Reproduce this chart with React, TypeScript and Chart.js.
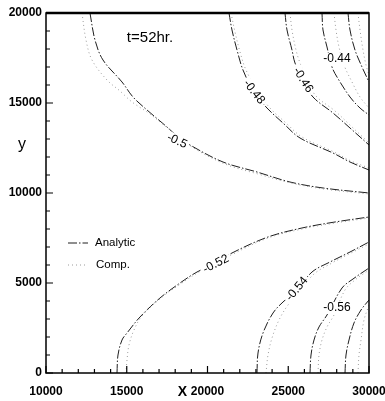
import React, { useEffect, useRef } from 'react';
import { Chart, registerables } from 'chart.js';
Chart.register(...registerables);

type P = { x: number; y: number };

// Tick labels
const xTicks = [10000, 15000, 20000, 25000, 30000];
const yTicks = [0, 5000, 10000, 15000, 20000];

// Analytic contours
const an042: P[] = [
  { x: 28700, y: 20000 }, { x: 28824, y: 19056 }, { x: 29133, y: 17944 }, { x: 29567, y: 17000 }, { x: 30000, y: 16167 },
];
const an044: P[] = [
  { x: 27090, y: 20000 }, { x: 27152, y: 19056 }, { x: 27400, y: 18111 }, { x: 27709, y: 17000 }, { x: 28019, y: 16444 },
  { x: 28824, y: 15333 }, { x: 29443, y: 14722 }, { x: 30000, y: 14333 },
];
const an046: P[] = [
  { x: 24799, y: 20000 }, { x: 24923, y: 19056 }, { x: 25232, y: 17944 }, { x: 25418, y: 17222 }, { x: 25913, y: 16278 },
  { x: 26533, y: 15333 }, { x: 27771, y: 14444 }, { x: 28824, y: 13611 }, { x: 30000, y: 12667 },
];
const an048: P[] = [
  { x: 21331, y: 20000 }, { x: 21517, y: 19056 }, { x: 21827, y: 17944 }, { x: 22198, y: 16833 }, { x: 22879, y: 15611 },
  { x: 23684, y: 14722 }, { x: 24675, y: 13889 }, { x: 25728, y: 13056 }, { x: 27771, y: 12222 }, { x: 28824, y: 11722 },
  { x: 30000, y: 11278 },
];
const an050: P[] = [
  { x: 12724, y: 20000 }, { x: 13034, y: 18500 }, { x: 13529, y: 17389 }, { x: 14706, y: 16167 }, { x: 15387, y: 15333 },
  { x: 16254, y: 14611 }, { x: 17492, y: 13667 }, { x: 18111, y: 13167 }, { x: 18916, y: 12667 }, { x: 20960, y: 11722 },
  { x: 23065, y: 11167 }, { x: 25108, y: 10611 }, { x: 27152, y: 10278 }, { x: 30000, y: 10000 },
];
const an052: P[] = [
  { x: 14396, y: 0 }, { x: 14458, y: 1000 }, { x: 14706, y: 1833 }, { x: 15016, y: 2222 }, { x: 15820, y: 3111 },
  { x: 17059, y: 4167 }, { x: 18297, y: 5000 }, { x: 19350, y: 5611 }, { x: 20526, y: 6111 }, { x: 21517, y: 6667 },
  { x: 23746, y: 7556 }, { x: 25851, y: 8056 }, { x: 27895, y: 8389 }, { x: 30000, y: 8667 },
];
const an054: P[] = [
  { x: 23065, y: 0 }, { x: 23127, y: 1111 }, { x: 23437, y: 2222 }, { x: 24056, y: 3333 }, { x: 24675, y: 3944 },
  { x: 25542, y: 4611 }, { x: 26471, y: 5611 }, { x: 27586, y: 6167 }, { x: 28824, y: 6722 }, { x: 30000, y: 7278 },
];
const an056: P[] = [
  { x: 26347, y: 0 }, { x: 26409, y: 1000 }, { x: 26595, y: 1833 }, { x: 26904, y: 2556 }, { x: 27400, y: 3222 },
  { x: 28328, y: 4722 }, { x: 29009, y: 5222 }, { x: 30000, y: 5833 },
];
const an058: P[] = [
  { x: 28514, y: 0 }, { x: 28576, y: 1000 }, { x: 28762, y: 1833 }, { x: 29071, y: 2778 }, { x: 29505, y: 3500 }, { x: 30000, y: 4056 },
];

// Computed contours
const cp042: P[] = [
  { x: 29319, y: 20000 }, { x: 29443, y: 19056 }, { x: 29629, y: 17944 }, { x: 29815, y: 17111 }, { x: 30000, y: 16556 },
];
const cp044: P[] = [
  { x: 27833, y: 20000 }, { x: 27957, y: 19056 }, { x: 28143, y: 18111 }, { x: 28452, y: 17111 }, { x: 28947, y: 16167 },
  { x: 29443, y: 15333 }, { x: 30000, y: 14722 },
];
const cp046: P[] = [
  { x: 25108, y: 20000 }, { x: 25232, y: 19056 }, { x: 25480, y: 17944 }, { x: 25728, y: 17222 }, { x: 26161, y: 16278 },
  { x: 26719, y: 15389 }, { x: 27895, y: 14556 }, { x: 28886, y: 13722 }, { x: 30000, y: 12778 },
];
const cp048: P[] = [
  { x: 21455, y: 20000 }, { x: 21703, y: 18944 }, { x: 22013, y: 17833 }, { x: 22384, y: 16833 }, { x: 23127, y: 15611 },
  { x: 23870, y: 14722 }, { x: 24861, y: 13889 }, { x: 25851, y: 13111 }, { x: 27833, y: 12278 }, { x: 28886, y: 11778 },
  { x: 30000, y: 11389 },
];
const cp050: P[] = [
  { x: 12229, y: 20000 }, { x: 12477, y: 18500 }, { x: 12848, y: 17389 }, { x: 13777, y: 16278 }, { x: 14582, y: 15667 },
  { x: 15325, y: 15056 }, { x: 16440, y: 14389 }, { x: 17678, y: 13500 }, { x: 19040, y: 12556 }, { x: 21084, y: 11611 },
  { x: 23127, y: 11056 }, { x: 25170, y: 10556 }, { x: 27214, y: 10222 }, { x: 30000, y: 9944 },
];
const cp052: P[] = [
  { x: 14954, y: 0 }, { x: 15016, y: 722 }, { x: 15139, y: 1556 }, { x: 15449, y: 2389 }, { x: 15944, y: 3167 },
  { x: 17121, y: 4167 }, { x: 18421, y: 5000 }, { x: 19474, y: 5611 }, { x: 21579, y: 6611 }, { x: 23746, y: 7500 },
  { x: 25851, y: 8000 }, { x: 27895, y: 8333 }, { x: 30000, y: 8611 },
];
const cp054: P[] = [
  { x: 23622, y: 0 }, { x: 23746, y: 1000 }, { x: 23994, y: 1944 }, { x: 24427, y: 2944 }, { x: 24985, y: 3778 },
  { x: 25728, y: 4556 }, { x: 26595, y: 5500 }, { x: 27709, y: 6111 }, { x: 28886, y: 6667 }, { x: 30000, y: 7167 },
];
const cp056: P[] = [
  { x: 26843, y: 0 }, { x: 26904, y: 1000 }, { x: 27090, y: 1833 }, { x: 27400, y: 2556 }, { x: 27833, y: 3222 },
  { x: 28514, y: 4611 }, { x: 29133, y: 5167 }, { x: 30000, y: 5722 },
];
const cp058: P[] = [
  { x: 29319, y: 0 }, { x: 29381, y: 1000 }, { x: 29505, y: 1833 }, { x: 29691, y: 2944 }, { x: 30000, y: 3778 },
];

// Contour labels: text, anchor (data), angle (deg)
const labelTexts = ['-0.44', '-0.46', '-0.48', '-0.5', '-0.52', '-0.54', '-0.56'];
const labelX = [28019, 25913, 22879, 18111, 20526, 25542, 28019];
const labelY = [17444, 16278, 15611, 12889, 6056, 4667, 3611];
const labelAngle = [0, 58, 52, 25, -27, -50, 0];

const FONT = '"Liberation Sans", Arial, Helvetica, sans-serif';
const AN_COLOR = '#1e1e1e';
const CP_COLOR = '#9a9a9a';
const AN_DASH = [9, 2, 1.5, 2];
const CP_DASH = [1, 3];

const decor = {
  id: 'decor',
  afterDatasetsDraw(chart: any) {
    const { ctx, chartArea: a, scales } = chart;
    const xs = scales.x, ys = scales.y;
    ctx.save();
    // contour labels
    ctx.font = `12px ${FONT}`;
    ctx.textAlign = 'center';
    ctx.textBaseline = 'middle';
    for (let i = 0; i < labelTexts.length; i++) {
      const px = xs.getPixelForValue(labelX[i]);
      const py = ys.getPixelForValue(labelY[i]);
      ctx.save();
      ctx.translate(px, py);
      ctx.rotate((labelAngle[i] * Math.PI) / 180);
      const w = ctx.measureText(labelTexts[i]).width;
      ctx.fillStyle = '#fff';
      ctx.fillRect(-w / 2 - 2, -6, w + 4, 12);
      ctx.fillStyle = '#000';
      ctx.fillText(labelTexts[i], 0, 0);
      ctx.restore();
    }
    // title
    ctx.font = `15px ${FONT}`;
    ctx.fillStyle = '#000';
    ctx.fillText('t=52hr.', xs.getPixelForValue(16440), ys.getPixelForValue(18611));

    // frame
    ctx.strokeStyle = '#000';
    ctx.lineWidth = 1.5;
    ctx.strokeRect(a.left, a.top, a.right - a.left, a.bottom - a.top);
    ctx.lineWidth = 2.5;
    ctx.beginPath();
    ctx.moveTo(a.left, a.top);
    ctx.lineTo(a.right, a.top);
    ctx.stroke();

    // inward ticks
    ctx.lineWidth = 1.2;
    ctx.beginPath();
    for (let v = xTicks[0]; v <= xTicks[xTicks.length - 1]; v += 1000) {
      const px = xs.getPixelForValue(v);
      const len = v % 5000 === 0 ? 7 : 4;
      ctx.moveTo(px, a.bottom);
      ctx.lineTo(px, a.bottom - len);
    }
    for (let v = yTicks[0]; v <= yTicks[yTicks.length - 1]; v += 1000) {
      const py = ys.getPixelForValue(v);
      const len = v % 5000 === 0 ? 7 : 4;
      ctx.moveTo(a.left, py);
      ctx.lineTo(a.left + len, py);
    }
    ctx.stroke();

    // axis titles
    ctx.fillStyle = '#000';
    ctx.font = `16px ${FONT}`;
    ctx.textAlign = 'center';
    ctx.fillText('y', a.left - 24, a.top + 132);
    ctx.font = `bold 14px ${FONT}`;
    ctx.fillText('X', xs.getPixelForValue(20000) - 25, a.bottom + 19);

    // legend
    const lx = a.left + 22;
    const ly1 = a.top + 230;
    const ly2 = a.top + 252;
    ctx.lineWidth = 1;
    ctx.strokeStyle = AN_COLOR;
    ctx.setLineDash(AN_DASH);
    ctx.beginPath();
    ctx.moveTo(lx, ly1);
    ctx.lineTo(lx + 20, ly1);
    ctx.stroke();
    ctx.strokeStyle = CP_COLOR;
    ctx.setLineDash(CP_DASH);
    ctx.beginPath();
    ctx.moveTo(lx, ly2);
    ctx.lineTo(lx + 20, ly2);
    ctx.stroke();
    ctx.setLineDash([]);
    ctx.font = `11.5px ${FONT}`;
    ctx.textAlign = 'left';
    ctx.fillText('Analytic', lx + 27, ly1);
    ctx.fillText('Comp.', lx + 28, ly2);
    ctx.restore();
  },
};

const analyticSets = [an042, an044, an046, an048, an050, an052, an054, an056, an058];
const compSets = [cp042, cp044, cp046, cp048, cp050, cp052, cp054, cp056, cp058];

export default function App() {
  const ref = useRef<HTMLCanvasElement | null>(null);
  useEffect(() => {
    document.body.style.margin = '0';
    if (!ref.current) return;
    const datasets: any[] = [];
    compSets.forEach((d, i) =>
      datasets.push({
        label: 'Comp. ' + i,
        data: d,
        showLine: true,
        pointRadius: 0,
        borderColor: CP_COLOR,
        borderWidth: 1,
        borderDash: CP_DASH,
        tension: 0.35,
      })
    );
    analyticSets.forEach((d, i) =>
      datasets.push({
        label: 'Analytic ' + i,
        data: d,
        showLine: true,
        pointRadius: 0,
        borderColor: AN_COLOR,
        borderWidth: 1,
        borderDash: AN_DASH,
        tension: 0.35,
      })
    );
    const tickFont = { family: FONT, size: 12, weight: 'bold' as const };
    const chart = new Chart(ref.current, {
      type: 'scatter',
      data: { datasets },
      options: {
        animation: false,
        responsive: true,
        maintainAspectRatio: false,
        layout: { padding: { top: 13, right: 16, left: 0, bottom: 0 } },
        plugins: { legend: { display: false }, tooltip: { enabled: false } },
        scales: {
          x: {
            type: 'linear',
            min: xTicks[0],
            max: xTicks[xTicks.length - 1],
            grid: { display: false, drawTicks: false, tickLength: 0 },
            border: { display: false },
            afterBuildTicks: (s: any) => {
              s.ticks = xTicks.map((v) => ({ value: v }));
            },
            ticks: { color: '#000', font: tickFont, padding: 11, maxRotation: 0, autoSkip: false, callback: (v: any) => String(v) },
            afterFit: (s: any) => {
              s.height = 28;
              s.paddingLeft = 0;
              s.paddingRight = 0;
            },
          },
          y: {
            type: 'linear',
            min: yTicks[0],
            max: yTicks[yTicks.length - 1],
            grid: { display: false, drawTicks: false, tickLength: 0 },
            border: { display: false },
            afterBuildTicks: (s: any) => {
              s.ticks = yTicks.map((v) => ({ value: v }));
            },
            ticks: { color: '#000', font: tickFont, padding: 4, autoSkip: false, callback: (v: any) => String(v) },
            afterFit: (s: any) => {
              s.width = 46;
              s.paddingTop = 0;
              s.paddingBottom = 0;
            },
          },
        },
      },
      plugins: [decor],
    });
    return () => chart.destroy();
  }, []);
  return (
    <div style={{ position: 'absolute', left: 0, top: 0, width: 385, height: 401, background: '#fff' }}>
      <canvas ref={ref} />
    </div>
  );
}
